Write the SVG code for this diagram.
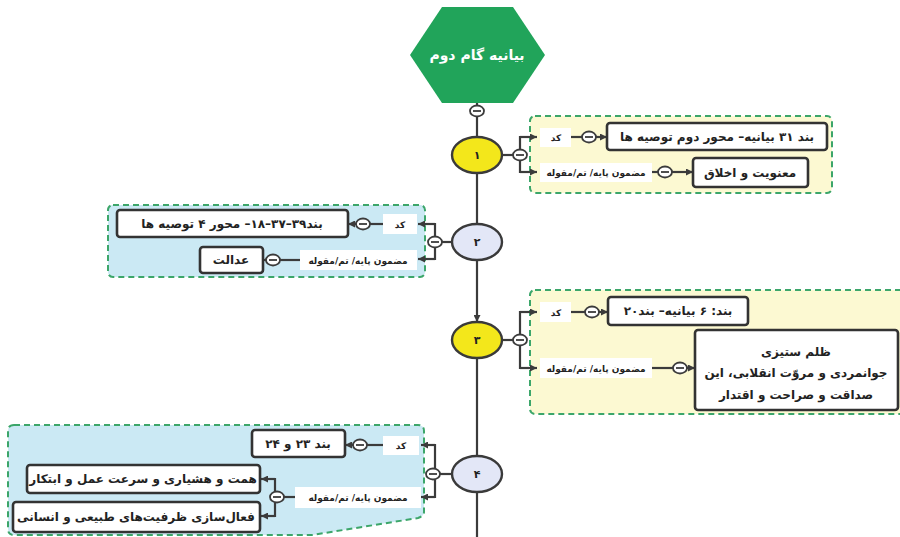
<svg xmlns="http://www.w3.org/2000/svg" width="900" height="537" viewBox="0 0 900 537">
<style>
.ln{fill:none;stroke:#3b3b3b;stroke-width:2.2}
.la{fill:none;stroke:#3b3b3b;stroke-width:2.2;marker-end:url(#ah)}
.box{fill:#fff;stroke:#333;stroke-width:2.6}
.lbg{fill:#fff;stroke:none}
.grpY{fill:#fcf9d2;stroke:#3ca66a;stroke-width:2;stroke-dasharray:6,4}
.grpB{fill:#cbe9f4;stroke:#3ca66a;stroke-width:2;stroke-dasharray:6,4}
.ey{fill:#f3e71b;stroke:#3a3a3a;stroke-width:2.4}
.eb{fill:#e3e7f7;stroke:#3a3a3a;stroke-width:2.4}
text{font-family:"DejaVu Sans","Noto Sans",sans-serif;font-weight:bold;text-anchor:middle;direction:rtl;fill:#222}
.t{font-size:12px}
.s{font-size:9px}
.n{font-size:11px}
.h{font-size:14px;fill:#fff}
</style>
<defs>
<marker id="ah" viewBox="0 0 8 8" refX="8" refY="4" markerWidth="7" markerHeight="7" orient="auto" markerUnits="userSpaceOnUse"><path d="M0,0 L8,4 L0,8 z" fill="#3b3b3b"/></marker>
<g id="tog"><ellipse cx="0" cy="0" rx="7" ry="5.5" fill="#fff" stroke="#3b3b3b" stroke-width="1.8"/><line x1="-4" y1="0" x2="4" y2="0" stroke="#3b3b3b" stroke-width="1.8"/></g>
</defs>

<!-- group backgrounds -->
<rect class="grpY" x="530" y="116" width="302" height="77" rx="5"/>
<rect class="grpB" x="108" y="205" width="317" height="72" rx="5"/>
<rect class="grpY" x="530" y="290" width="380" height="124" rx="5"/>
<path class="grpB" d="M14,425 H418 Q424,425 424,431 V512 Q424,516 418,518 L312,535 H14 Q8,535 8,529 V431 Q8,425 14,425 z"/>

<g id="connectors">
<line class="ln" x1="477" y1="103" x2="477" y2="137"/>
<line class="ln" x1="477" y1="173" x2="477" y2="224"/>
<line class="la" x1="477" y1="260" x2="477" y2="322"/>
<line class="ln" x1="477" y1="358" x2="477" y2="456"/>
<line class="ln" x1="477" y1="492" x2="477" y2="537"/>
<!-- node1 -->
<line class="ln" x1="502" y1="155" x2="520" y2="155"/>
<path class="ln" d="M535,137 H520 V172 H535"/>
<line class="la" x1="520" y1="137" x2="537" y2="137"/>
<line class="la" x1="520" y1="172" x2="537" y2="172"/>
<line class="ln" x1="571" y1="137" x2="582" y2="137"/>
<line class="la" x1="596" y1="137" x2="607" y2="137"/>
<line class="ln" x1="652" y1="172" x2="658" y2="172"/>
<line class="la" x1="672" y1="172" x2="693" y2="172"/>
<!-- node2 -->
<line class="ln" x1="452" y1="242" x2="435" y2="242"/>
<path class="ln" d="M420,224 H435 V259 H420"/>
<line class="la" x1="435" y1="224" x2="418" y2="224"/>
<line class="la" x1="435" y1="259" x2="418" y2="259"/>
<line class="ln" x1="383" y1="224" x2="370" y2="224"/>
<line class="la" x1="356" y1="224" x2="348" y2="224"/>
<line class="ln" x1="300" y1="260" x2="280" y2="260"/>
<line class="la" x1="266" y1="260" x2="263" y2="260"/>
<!-- node3 -->
<line class="ln" x1="502" y1="340" x2="520" y2="340"/>
<path class="ln" d="M535,312 H520 V368 H535"/>
<line class="la" x1="520" y1="312" x2="537" y2="312"/>
<line class="la" x1="520" y1="368" x2="537" y2="368"/>
<line class="ln" x1="571" y1="312" x2="585" y2="312"/>
<line class="la" x1="599" y1="312" x2="608" y2="312"/>
<line class="ln" x1="652" y1="368" x2="673" y2="368"/>
<line class="la" x1="687" y1="368" x2="695" y2="368"/>
<!-- node4 -->
<line class="ln" x1="452" y1="474" x2="435" y2="474"/>
<path class="ln" d="M423,445 H435 V497 H423"/>
<line class="la" x1="435" y1="445" x2="421" y2="445"/>
<line class="la" x1="435" y1="497" x2="421" y2="497"/>
<line class="ln" x1="383" y1="445" x2="367" y2="445"/>
<line class="la" x1="353" y1="445" x2="345" y2="445"/>
<line class="ln" x1="295" y1="497" x2="284" y2="497"/>
<path class="ln" d="M264,479 H275 V516 H264"/>
<line class="la" x1="275" y1="479" x2="261" y2="479"/>
<line class="la" x1="275" y1="516" x2="261" y2="516"/>
<!-- toggles -->
<use href="#tog" x="477" y="111"/>
<use href="#tog" x="520" y="155"/>
<use href="#tog" x="589" y="137"/>
<use href="#tog" x="665" y="172"/>
<use href="#tog" x="435" y="242"/>
<use href="#tog" x="363" y="224"/>
<use href="#tog" x="273" y="260"/>
<use href="#tog" x="520" y="340"/>
<use href="#tog" x="592" y="312"/>
<use href="#tog" x="680" y="368"/>
<use href="#tog" x="433" y="474"/>
<use href="#tog" x="360" y="445"/>
<use href="#tog" x="277" y="497"/>
</g>

<g id="root">
<polygon points="410,55 442,7 513,7 545,55 513,103 442,103" fill="#21a45a"/>
<text class="h" x="477" y="60">بیانیه گام دوم</text>
</g>

<g id="n1">
<ellipse class="ey" cx="477" cy="155" rx="25" ry="18"/>
<text class="n" x="477" y="159">۱</text>
<rect class="lbg" x="540" y="128" width="31" height="19"/>
<text class="s" x="556" y="141">کد</text>
<rect class="lbg" x="540" y="163" width="112" height="19"/>
<text class="s" x="596" y="176">مضمون پایه/ تم/مقوله</text>
<rect class="box" x="607" y="123" width="220" height="27" rx="3"/>
<text class="t" x="717" y="141">بند ۳۱ بیانیه– محور دوم توصیه ها</text>
<rect class="box" x="693" y="158" width="115" height="29" rx="3"/>
<text class="t" x="750" y="177">معنویت و  اخلاق</text>
</g>

<g id="n2">
<ellipse class="eb" cx="477" cy="242" rx="25" ry="18"/>
<text class="n" x="477" y="246">۲</text>
<rect class="lbg" x="383" y="214" width="34" height="20"/>
<text class="s" x="400" y="228">کد</text>
<rect class="lbg" x="300" y="250" width="117" height="20"/>
<text class="s" x="358" y="264">مضمون پایه/ تم/مقوله</text>
<rect class="box" x="117" y="210" width="231" height="27" rx="3"/>
<text class="t" x="232" y="228">بند۳۹–۳۷–۱۸– محور ۴ توصیه ها</text>
<rect class="box" x="200" y="247" width="63" height="26" rx="3"/>
<text class="t" x="231" y="264">عدالت</text>
</g>

<g id="n3">
<ellipse class="ey" cx="477" cy="340" rx="25" ry="18"/>
<text class="n" x="477" y="344">۳</text>
<rect class="lbg" x="540" y="302" width="31" height="20"/>
<text class="s" x="556" y="316">کد</text>
<rect class="lbg" x="540" y="358" width="112" height="20"/>
<text class="s" x="596" y="372">مضمون پایه/ تم/مقوله</text>
<rect class="box" x="608" y="297" width="140" height="28" rx="3"/>
<text class="t" x="678" y="315">بند: ۶ بیانیه– بند۲۰</text>
<rect class="box" x="695" y="330" width="203" height="80" rx="3"/>
<text class="t" x="796" y="356">ظلم ستیزی</text>
<text class="t" x="796" y="377">جوانمردی و مروّت انقلابی، این</text>
<text class="t" x="796" y="399">صداقت و صراحت و اقتدار</text>
</g>

<g id="n4">
<ellipse class="eb" cx="477" cy="474" rx="25" ry="18"/>
<text class="n" x="477" y="478">۴</text>
<rect class="lbg" x="383" y="436" width="36" height="19"/>
<text class="s" x="401" y="449">کد</text>
<rect class="lbg" x="295" y="487" width="126" height="21"/>
<text class="s" x="358" y="501">مضمون پایه/ تم/مقوله</text>
<rect class="box" x="252" y="430" width="93" height="27" rx="3"/>
<text class="t" x="298" y="448">بند ۲۳ و ۲۴</text>
<rect class="box" x="27" y="465" width="233" height="28" rx="3"/>
<text class="t" x="143" y="483">همت و هشیاری و سرعت عمل و ابتکار</text>
<rect class="box" x="13" y="502" width="247" height="30" rx="3"/>
<text class="t" x="136" y="521">فعال‌سازی ظرفیت‌های طبیعی و انسانی</text>
</g>
</svg>
